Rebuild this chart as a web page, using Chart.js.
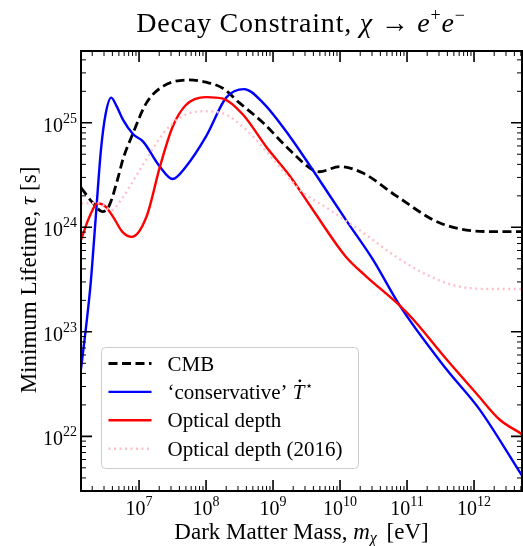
<!DOCTYPE html>
<html>
<head>
<meta charset="utf-8">
<script src="https://cdn.jsdelivr.net/npm/chart.js@4.4.1/dist/chart.umd.min.js"></script>
<style>
  html, body { margin: 0; padding: 0; background: #fff; }
  #wrap { width: 523px; height: 546px; }
</style>
</head>
<body>
<div id="wrap"><canvas id="myChart"></canvas></div>
<script>
// axis range (eV, seconds)
const xMin = 1.36e6, xMax = 5.2e12;
const yMin = 3.0e21, yMax = 4.86e25;

// CMB
const massCMB = [1.36e6, 1.51e6, 2.0e6, 2.85e6, 3.6e6, 4.8e6, 5.75e6, 8.1e6, 1.29e7, 2.3e7, 5.6e7, 1e8, 1.78e8, 3.16e8, 7.1e8, 1.58e9, 3.9e9, 4.9e9, 9.8e9, 2.2e10, 6.9e10, 3.1e11, 1.7e12, 5.2e12];
const tauCMB = [2.4e24, 2.19e24, 1.74e24, 1.41e24, 1.62e24, 2.9e24, 4.47e24, 7.9e24, 1.55e25, 2.24e25, 2.57e25, 2.45e25, 2.14e25, 1.55e25, 1e25, 5.9e24, 3.55e24, 3.4e24, 3.8e24, 3.3e24, 2.0e24, 1.1e24, 9.1e23, 9.1e23];

// 'conservative' T dot
const massCons = [1.36e6, 1.62e6, 1.9e6, 2.26e6, 2.7e6, 3.16e6, 3.85e6, 4.6e6, 5.75e6, 8.1e6, 1.15e7, 2.05e7, 3.16e7, 5e7, 1e8, 2e8, 3.7e8, 7.1e8, 1.78e9, 3.9e9, 1.23e10, 3.1e10, 7.8e10, 3.85e11, 1.2e12, 5.2e12];
const tauCons = [4.4e22, 1.12e23, 2.95e23, 1.26e24, 5.5e24, 1.2e25, 1.74e25, 1.45e25, 1.07e25, 7.8e24, 6.6e24, 3.8e24, 2.9e24, 3.8e24, 7.4e24, 1.74e25, 2.1e25, 1.55e25, 7.4e24, 3.55e24, 1.17e24, 4.9e23, 1.78e23, 4.4e22, 1.82e22, 4.2e21];

// Optical depth
const massOpt = [1.36e6, 1.82e6, 2.4e6, 3.16e6, 4.1e6, 5.6e6, 7.8e6, 1.29e7, 2.05e7, 3.16e7, 5e7, 1e8, 1.78e8, 3.55e8, 7.9e8, 1.78e9, 3.9e9, 1.23e10, 2.45e10, 7.8e10, 1.23e11, 3.85e11, 1.07e12, 2.4e12, 5.2e12];
const tauOpt = [7.6e23, 1.26e24, 1.7e24, 1.58e24, 1.26e24, 9.1e23, 8.1e23, 1.26e24, 3.8e24, 9.1e24, 1.48e25, 1.76e25, 1.7e25, 1.2e25, 5.9e24, 3.1e24, 1.48e24, 5.2e23, 3.4e23, 1.78e23, 1.32e23, 5.5e22, 2.6e22, 1.45e22, 1.05e22];

// Optical depth (2016)
const massOpt16 = [1.36e6, 2.57e6, 3.8e6, 5.6e6, 8.5e6, 1.29e7, 2.3e7, 4e7, 8.9e7, 1.78e8, 4e8, 1e9, 2.5e9, 6.9e9, 2.2e10, 6.9e10, 2.2e11, 5.4e11, 1.6e12, 5.2e12];
const tauOpt16 = [1.7e24, 1.7e24, 1.45e24, 1.9e24, 2.9e24, 4.5e24, 7.9e24, 1.11e25, 1.29e25, 1.23e25, 8.5e24, 4.5e24, 2.3e24, 1.48e24, 8.9e23, 5.2e23, 3.4e23, 2.75e23, 2.57e23, 2.57e23];

const xTickExp = [7, 8, 9, 10, 11, 12];
const yTickExp = [22, 23, 24, 25];

const serif = '"Liberation Serif", "DejaVu Serif", serif';

function pts(xs, ys) {
  return xs.map((x, i) => ({ x: x, y: ys[i] }));
}

// draw text made of pieces (regular / italic / raised)
function richWidth(ctx, segs) {
  let w = 0;
  segs.forEach(s => {
    ctx.font = (s.it ? "italic " : "") + s.size + "px " + serif;
    w += ctx.measureText(s.t).width + (s.gap || 0);
  });
  return w;
}
function drawRich(ctx, segs, x, y, align) {
  const w = richWidth(ctx, segs);
  let cx = align === "center" ? x - w / 2 : align === "right" ? x - w : x;
  ctx.textAlign = "left";
  ctx.textBaseline = "alphabetic";
  segs.forEach(s => {
    ctx.font = (s.it ? "italic " : "") + s.size + "px " + serif;
    ctx.fillText(s.t, cx, y - (s.dy || 0));
    const sw = ctx.measureText(s.t).width;
    if (s.dot) {
      ctx.beginPath();
      ctx.arc(cx + sw * 0.6, y - s.size * 0.86, 1.4, 0, Math.PI * 2);
      ctx.fill();
    }
    cx += sw + (s.gap || 0);
  });
}

const frame = {
  id: "frame",
  afterDraw(chart) {
    const ctx = chart.ctx;
    const a = chart.chartArea;
    const xs = chart.scales.x, ys = chart.scales.y;
    ctx.save();
    ctx.fillStyle = "#000";
    ctx.strokeStyle = "#000";

    // ticks, inward on all four sides
    function tick(p, len, lw, horiz) {
      ctx.lineWidth = lw;
      ctx.beginPath();
      if (horiz) {
        ctx.moveTo(p, a.bottom); ctx.lineTo(p, a.bottom - len);
        ctx.moveTo(p, a.top); ctx.lineTo(p, a.top + len);
      } else {
        ctx.moveTo(a.left, p); ctx.lineTo(a.left + len, p);
        ctx.moveTo(a.right, p); ctx.lineTo(a.right - len, p);
      }
      ctx.stroke();
    }
    for (let e = 6; e <= 12; e++) {
      for (let m = 1; m <= 9; m++) {
        const v = m * Math.pow(10, e);
        if (v < xMin || v > xMax) continue;
        const p = xs.getPixelForValue(v);
        tick(p, m === 1 ? 11 : 5, m === 1 ? 1.6 : 1, true);
      }
    }
    for (let e = 21; e <= 25; e++) {
      for (let m = 1; m <= 9; m++) {
        const v = m * Math.pow(10, e);
        if (v < yMin || v > yMax) continue;
        const p = ys.getPixelForValue(v);
        tick(p, m === 1 ? 11 : 5, m === 1 ? 1.6 : 1, false);
      }
    }

    // frame
    ctx.lineWidth = 2;
    ctx.strokeRect(a.left, a.top, a.right - a.left, a.bottom - a.top);

    // tick labels
    xTickExp.forEach(e => {
      const p = xs.getPixelForValue(Math.pow(10, e));
      drawRich(ctx, [{ t: "10", size: 20 }, { t: String(e), size: 14, dy: 9 }], p, a.bottom + 24, "center");
    });
    yTickExp.forEach(e => {
      const p = ys.getPixelForValue(Math.pow(10, e));
      drawRich(ctx, [{ t: "10", size: 20 }, { t: String(e), size: 14, dy: 9 }], a.left - 4, p + 9, "right");
    });

    // axis titles
    drawRich(ctx, [
      { t: "Dark Matter Mass, ", size: 23 },
      { t: "m", it: true, size: 23 },
      { t: "χ", it: true, size: 16, dy: -4, gap: 4 },
      { t: " [eV]", size: 23 }
    ], (a.left + a.right) / 2, 539, "center");

    ctx.save();
    ctx.translate(36, 280);
    ctx.rotate(-Math.PI / 2);
    drawRich(ctx, [
      { t: "Minimum Lifetime, ", size: 23 },
      { t: "τ", it: true, size: 23 },
      { t: " [s]", size: 23 }
    ], 0, 0, "center");
    ctx.restore();

    // title
    ctx.letterSpacing = "0.8px";
    drawRich(ctx, [
      { t: "Decay Constraint, ", size: 28 },
      { t: "χ", it: true, size: 28 },
      { t: " → ", size: 28 },
      { t: "e", it: true, size: 28 },
      { t: "+", size: 18, dy: 11 },
      { t: "e", it: true, size: 28 },
      { t: "−", size: 18, dy: 11 }
    ], 301, 32, "center");
    ctx.letterSpacing = "0px";

    // legend
    const lx = 101.5, ly = 347.5, lw = 257, lh = 121;
    ctx.fillStyle = "rgba(255,255,255,0.85)";
    ctx.strokeStyle = "#cccccc";
    ctx.lineWidth = 1;
    ctx.beginPath();
    ctx.roundRect(lx, ly, lw, lh, 4);
    ctx.fill();
    ctx.stroke();

    const rows = [
      { color: "#000", dash: [9, 4.5], w: 2.8, label: [{ t: "CMB", size: 21 }] },
      { color: "#0000ff", dash: [], w: 2.4, label: [
        { t: "‘conservative’ ", size: 21 },
        { t: "T", it: true, size: 21, dot: true },
        { t: "⋆", size: 13, dy: 9 }
      ] },
      { color: "#ff0000", dash: [], w: 2.4, label: [{ t: "Optical depth", size: 21 }] },
      { color: "#ffc0cb", dash: [2, 3.5], w: 2.4, label: [{ t: "Optical depth (2016)", size: 21 }] }
    ];
    rows.forEach((r, i) => {
      const yy = ly + 16 + i * 28.4;
      ctx.strokeStyle = r.color;
      ctx.lineWidth = r.w;
      ctx.setLineDash(r.dash);
      ctx.beginPath();
      ctx.moveTo(lx + 7, yy);
      ctx.lineTo(lx + 50, yy);
      ctx.stroke();
      ctx.setLineDash([]);
      ctx.fillStyle = "#000";
      drawRich(ctx, r.label, lx + 66, yy + 7, "left");
    });

    ctx.restore();
  }
};

const ctx = document.getElementById("myChart").getContext("2d");
const myChart = new Chart(ctx, {
  type: "line",
  data: {
    datasets: [
      {
        label: "Optical depth (2016)",
        data: pts(massOpt16, tauOpt16),
        borderColor: "#ffc0cb",
        borderWidth: 2.4,
        borderDash: [2, 3.5],
        cubicInterpolationMode: "monotone",
        pointRadius: 0,
      },
      {
        label: "Optical depth",
        data: pts(massOpt, tauOpt),
        borderColor: "#ff0000",
        borderWidth: 2.4,
        cubicInterpolationMode: "monotone",
        pointRadius: 0,
      },
      {
        label: "'conservative' T",
        data: pts(massCons, tauCons),
        borderColor: "#0000ff",
        borderWidth: 2.4,
        cubicInterpolationMode: "monotone",
        pointRadius: 0,
      },
      {
        label: "CMB",
        data: pts(massCMB, tauCMB),
        borderColor: "#000000",
        borderWidth: 2.8,
        borderDash: [9, 4.5],
        cubicInterpolationMode: "monotone",
        pointRadius: 0,
      },
    ],
  },
  options: {
    responsive: true,
    maintainAspectRatio: false,
    animation: false,
    layout: { padding: { left: 81, top: 51, right: 1, bottom: 55 } },
    plugins: {
      legend: { display: false },
      tooltip: { enabled: false },
    },
    scales: {
      x: { type: "logarithmic", min: xMin, max: xMax, display: false },
      y: { type: "logarithmic", min: yMin, max: yMax, display: false },
    },
  },
  plugins: [frame],
});
</script>
</body>
</html>
